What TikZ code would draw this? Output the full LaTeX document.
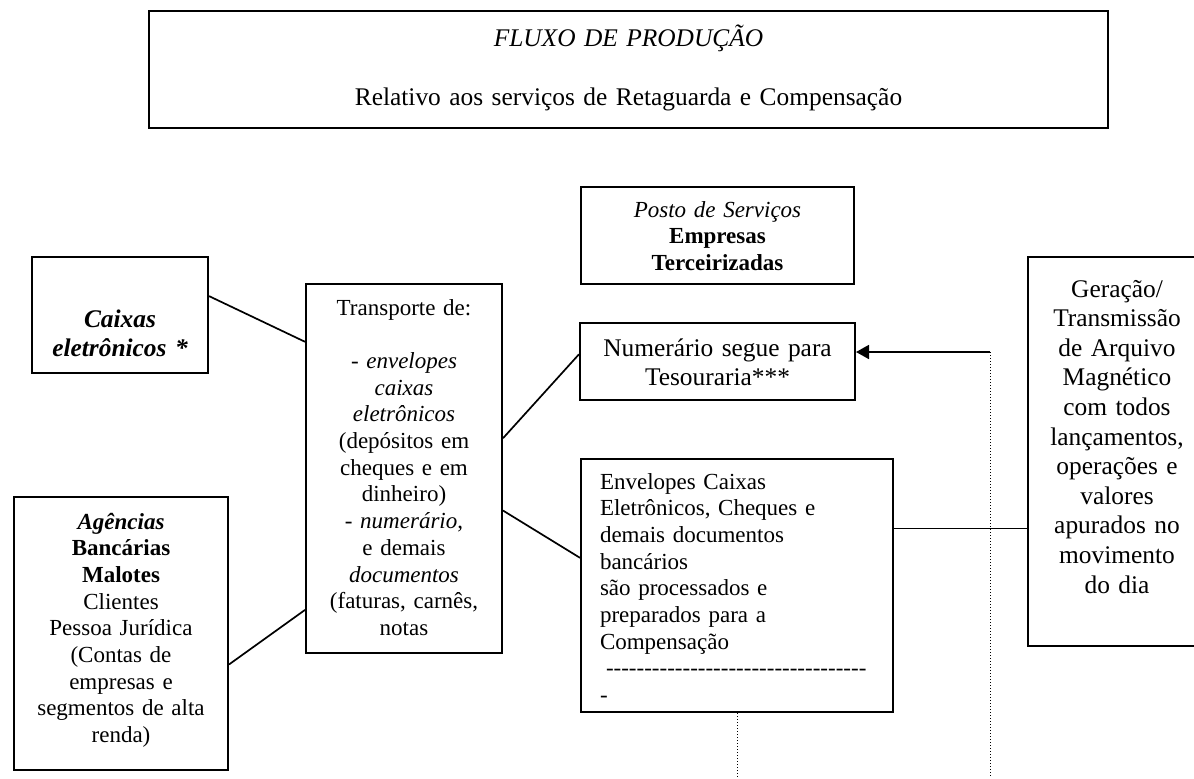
\documentclass[tikz,border=0pt]{standalone}
\usepackage{fontspec}
\setmainfont{Liberation Serif}
\usetikzlibrary{arrows.meta}

\begin{document}
\begin{tikzpicture}[x=0.5pt, y=-0.5pt, line width=0.85pt,
  box/.style = {draw, line width=1pt, anchor=north west, inner sep=0pt, align=center, font=\fontsize{11.5}{13.35}\selectfont},
  big/.style = {box, font=\fontsize{12.7}{14.8}\selectfont},
  dots/.style = {line width=0.5pt, densely dotted}]
\path[use as bounding box, clip] (0,0) rectangle (1194,778);
\coordinate (foot) at (0,778);
\coordinate (mark) at (990,352);

\node[big] (titulo) [text width=479.5pt, text height=17.5pt, text depth=41pt] at (148,10) {\textit{FLUXO DE PRODUÇÃO}\\[15pt] Relativo aos serviços de Retaguarda e Compensação};
\node[box] (posto) [text width=136.5pt, text height=15pt, text depth=33.5pt] at (580,186) {\textit{Posto de Serviços}\\ \textbf{Empresas}\\ \textbf{Terceirizadas}};
\node[big] (caixas) [text width=88pt, text height=35pt, text depth=23pt] at (31,256) {\bfseries\itshape Caixas\\ eletrônicos *};
\node[box] (transporte) [text width=98pt, text height=15.5pt, text depth=169pt] at (305,283) {Transporte de:\\[\baselineskip] - \textit{envelopes}\\ \textit{caixas}\\ \textit{eletrônicos}\\ (depósitos em\\ cheques e em\\ dinheiro)\\ - \textit{numerário},\\ e demais\\ \textit{documentos}\\ (faturas, carnês,\\ notas};
\node[box] (agencias) [text width=107pt, text height=16pt, text depth=120.5pt] at (13,496) {\textbf{\textit{Agências}}\\ \textbf{Bancárias}\\ \textbf{Malotes}\\ Clientes\\ Pessoa Jurídica\\ (Contas de\\ empresas e\\ segmentos de alta\\ renda)};
\node[big] (numerario) [text width=137.5pt, text height=16.5pt, text depth=22pt] at (579,322) {Numerário segue para\\ Tesouraria***};
\node[box] (envelopes) [align=left, inner xsep=9.5pt, text width=137pt, text height=15pt, text depth=111.5pt] at (580,458) {Envelopes Caixas\\ Eletrônicos, Cheques e\\ demais documentos\\ bancários\\ são processados e\\ preparados para a\\ Compensação\\ \hspace*{3pt}\foreach \i in {1,...,34}{-{}}\\ -};
\node[big] (geracao) [text width=89pt, text height=20pt, text depth=174.5pt] at (1027,256) {Geração/\\ Transmissão\\ de Arquivo\\ Magnético\\ com todos\\ lançamentos,\\ operações e\\ valores\\ apurados no\\ movimento\\ do dia};

\draw (caixas.12) -- (transporte.128);
\draw (agencias.344) -- (transporte.235);
\draw (transporte.17) -- (numerario.177);
\draw (transporte.337) -- (envelopes.170);
\draw (envelopes.20) -- (envelopes.20 -| geracao.west);
\draw[-{Triangle[length=6.5pt, width=7pt]}] (mark) -- (mark -| numerario.east);
\draw[dots] (mark) -- (mark |- foot);
\draw[dots] (envelopes.south) -- (envelopes.south |- foot);
\end{tikzpicture}
\end{document}
